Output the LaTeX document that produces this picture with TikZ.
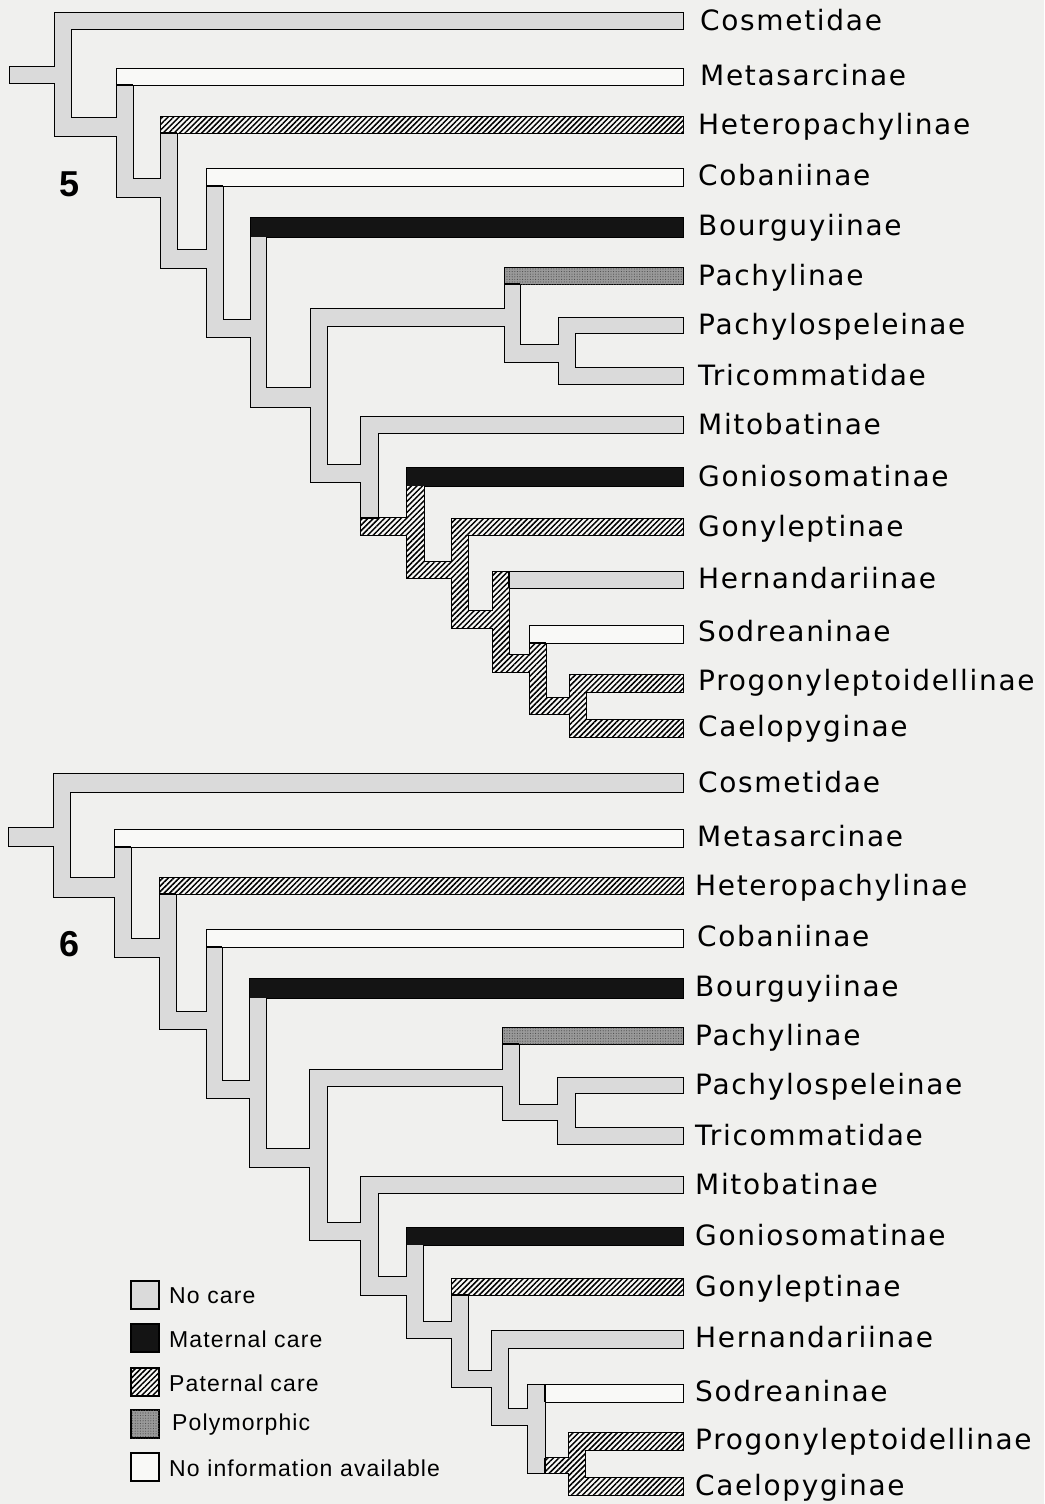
\documentclass[tikz,border=0pt]{standalone}
\usepackage{fontspec}
\setmainfont{DejaVu Sans}
\newfontfamily\labfont[LetterSpace=6]{DejaVu Sans}
\newfontfamily\legfont[LetterSpace=5]{Liberation Sans}
\newfontfamily\numfont{Liberation Sans}
\usetikzlibrary{patterns.meta}
\definecolor{bg}{HTML}{F0F0EE}
\definecolor{nocare}{HTML}{DADADA}
\definecolor{noinfo}{HTML}{F9F9F7}
\definecolor{polyc}{HTML}{999999}
\tikzset{
  gr/.style={fill=nocare},
  wh/.style={fill=noinfo},
  bl/.style={fill=black!92},
  po/.style={fill=polyc, postaction={pattern={Dots[distance=2.6pt,radius=0.55pt]}, pattern color=black!70}},
  ha/.style={fill=noinfo, postaction={pattern={Lines[angle=45,distance=3.9pt,line width=1.5pt]}, pattern color=black}},
  lab/.style={anchor=base west, inner sep=0pt, font=\labfont\fontsize{28}{30}\selectfont},
  leg/.style={anchor=west, inner sep=0pt, font=\legfont\fontsize{23}{26}\selectfont},
  legbox/.style={line width=1.3pt},
  bnd/.style={line width=1.3pt},
  num/.style={inner sep=0pt, font=\numfont\bfseries\fontsize{36}{38}\selectfont}
}
\newcommand\rectpass{}
\newcommand\Rb[5]{\rectpass{#1}{#2}{#3}{#4}{#5}}
\newcommand\outlinepass[5]{\draw[line width=2.8pt] (#1,#2) rectangle (#3,#4);}
\newcommand\fillpass[5]{\fill[#5] (#1,#2) rectangle (#3,#4);}
\newcommand\treeFive{%
  \Rb{10}{67}{55}{83}{gr}
  \Rb{55}{13}{71}{136}{gr}
  \Rb{55}{13}{683}{29}{gr}
  \Rb{55}{118}{133}{136}{gr}
  \Rb{117}{85}{133}{197}{gr}
  \Rb{117}{69}{683}{85}{wh}
  \Rb{117}{179}{177}{197}{gr}
  \Rb{161}{133}{177}{268}{gr}
  \Rb{161}{117}{683}{133}{ha}
  \Rb{161}{250}{223}{268}{gr}
  \Rb{207}{186}{223}{337}{gr}
  \Rb{207}{169}{683}{186}{wh}
  \Rb{207}{320}{266}{337}{gr}
  \Rb{251}{237}{266}{407}{gr}
  \Rb{251}{218}{683}{237}{bl}
  \Rb{251}{388}{327}{407}{gr}
  \Rb{311}{309}{327}{482}{gr}
  \Rb{311}{309}{520}{326}{gr}
  \Rb{505}{284}{520}{362}{gr}
  \Rb{505}{268}{683}{284}{po}
  \Rb{505}{345}{575}{362}{gr}
  \Rb{559}{318}{575}{384}{gr}
  \Rb{559}{318}{683}{333}{gr}
  \Rb{559}{368}{683}{384}{gr}
  \Rb{311}{465}{378}{482}{gr}
  \Rb{361}{417}{378}{518}{gr}
  \Rb{361}{417}{683}{433}{gr}
  \Rb{361}{518}{424}{535}{ha}
  \Rb{407}{486}{424}{578}{ha}
  \Rb{407}{468}{683}{486}{bl}
  \Rb{407}{562}{468}{578}{ha}
  \Rb{452}{519}{468}{628}{ha}
  \Rb{452}{519}{683}{535}{ha}
  \Rb{452}{611}{509}{628}{ha}
  \Rb{493}{572}{509}{672}{ha}
  \Rb{509}{572}{683}{588}{gr}
  \Rb{493}{655}{546}{672}{ha}
  \Rb{530}{643}{546}{714}{ha}
  \Rb{530}{626}{683}{643}{wh}
  \Rb{530}{698}{586}{714}{ha}
  \Rb{570}{675}{586}{737}{ha}
  \Rb{570}{675}{683}{692}{ha}
  \Rb{570}{720}{683}{737}{ha}
}
\newcommand\treeSix{%
  \Rb{9}{828}{54}{846}{gr}
  \Rb{54}{774}{70}{897}{gr}
  \Rb{54}{774}{683}{792}{gr}
  \Rb{54}{878}{131}{897}{gr}
  \Rb{115}{847}{131}{957}{gr}
  \Rb{115}{830}{683}{847}{wh}
  \Rb{115}{939}{176}{957}{gr}
  \Rb{160}{894}{176}{1029}{gr}
  \Rb{160}{878}{683}{894}{ha}
  \Rb{160}{1012}{222}{1029}{gr}
  \Rb{207}{947}{222}{1098}{gr}
  \Rb{207}{930}{683}{947}{wh}
  \Rb{207}{1081}{266}{1098}{gr}
  \Rb{250}{998}{266}{1167}{gr}
  \Rb{250}{979}{683}{998}{bl}
  \Rb{250}{1149}{327}{1167}{gr}
  \Rb{310}{1070}{327}{1240}{gr}
  \Rb{310}{1070}{519}{1086}{gr}
  \Rb{503}{1044}{519}{1120}{gr}
  \Rb{503}{1028}{683}{1044}{po}
  \Rb{503}{1105}{575}{1120}{gr}
  \Rb{558}{1078}{575}{1144}{gr}
  \Rb{558}{1078}{683}{1093}{gr}
  \Rb{558}{1128}{683}{1144}{gr}
  \Rb{310}{1223}{378}{1240}{gr}
  \Rb{361}{1177}{378}{1295}{gr}
  \Rb{361}{1177}{683}{1193}{gr}
  \Rb{361}{1277}{423}{1295}{gr}
  \Rb{407}{1245}{423}{1338}{gr}
  \Rb{407}{1228}{683}{1245}{bl}
  \Rb{407}{1322}{468}{1338}{gr}
  \Rb{452}{1295}{468}{1387}{gr}
  \Rb{452}{1279}{683}{1295}{ha}
  \Rb{452}{1371}{508}{1387}{gr}
  \Rb{492}{1331}{508}{1425}{gr}
  \Rb{492}{1331}{683}{1348}{gr}
  \Rb{492}{1409}{545}{1425}{gr}
  \Rb{528}{1385}{545}{1473}{gr}
  \Rb{545}{1385}{683}{1402}{wh}
  \Rb{545}{1458}{585}{1473}{ha}
  \Rb{569}{1433}{585}{1495}{ha}
  \Rb{569}{1433}{683}{1450}{ha}
  \Rb{569}{1478}{683}{1495}{ha}
}
\begin{document}
\begin{tikzpicture}[x=1pt,y=-1pt]
\useasboundingbox (0,0) rectangle (1044,1504);
\fill[bg] (0,0) rectangle (1044,1504);
% outline pass
\let\rectpass\outlinepass
\treeFive
\treeSix
% fill pass
\let\rectpass\fillpass
\treeFive
\treeSix
% colour boundaries, tree 5
\draw[bnd] (117,85) -- (133,85);
\draw[bnd] (161,133) -- (177,133);
\draw[bnd] (207,186) -- (223,186);
\draw[bnd] (505,284) -- (520,284);
\draw[bnd] (361,518) -- (378,518);
\draw[bnd] (509,572) -- (509,588);
\draw[bnd] (530,643) -- (546,643);
% colour boundaries, tree 6
\draw[bnd] (115,847) -- (131,847);
\draw[bnd] (160,894) -- (176,894);
\draw[bnd] (207,947) -- (222,947);
\draw[bnd] (503,1044) -- (519,1044);
\draw[bnd] (452,1295) -- (468,1295);
\draw[bnd] (545,1385) -- (545,1402);
\draw[bnd] (545,1458) -- (545,1473);
% figure numbers
\node[num] (n5) at (70,184) {5};
\node[num] (n6) at (70,944) {6};
% labels tree 5
\node[lab] (a1) at (700,31) {Cosmetidae};
\node[lab] (a2) at (700,85) {Metasarcinae};
\node[lab] (a3) at (698,134) {Heteropachylinae};
\node[lab] (a4) at (698,185) {Cobaniinae};
\node[lab] (a5) at (698,235) {Bourguyiinae};
\node[lab] (a6) at (698,285) {Pachylinae};
\node[lab] (a7) at (698,334) {Pachylospeleinae};
\node[lab] (a8) at (698,385) {Tricommatidae};
\node[lab] (a9) at (698,434) {Mitobatinae};
\node[lab] (a10) at (698,486) {Goniosomatinae};
\node[lab] (a11) at (698,536) {Gonyleptinae};
\node[lab] (a12) at (698,588) {Hernandariinae};
\node[lab] (a13) at (698,641) {Sodreaninae};
\node[lab] (a14) at (698,690) {Progonyleptoidellinae};
\node[lab] (a15) at (698,736) {Caelopyginae};
% labels tree 6
\node[lab] (b1) at (698,792) {Cosmetidae};
\node[lab] (b2) at (697,846) {Metasarcinae};
\node[lab] (b3) at (695,895) {Heteropachylinae};
\node[lab] (b4) at (697,946) {Cobaniinae};
\node[lab] (b5) at (695,996) {Bourguyiinae};
\node[lab] (b6) at (695,1045) {Pachylinae};
\node[lab] (b7) at (695,1094) {Pachylospeleinae};
\node[lab] (b8) at (695,1145) {Tricommatidae};
\node[lab] (b9) at (695,1194) {Mitobatinae};
\node[lab] (b10) at (695,1245) {Goniosomatinae};
\node[lab] (b11) at (695,1296) {Gonyleptinae};
\node[lab] (b12) at (695,1347) {Hernandariinae};
\node[lab] (b13) at (695,1401) {Sodreaninae};
\node[lab] (b14) at (695,1449) {Progonyleptoidellinae};
\node[lab] (b15) at (695,1495) {Caelopyginae};
% legend
\draw[legbox, gr] (131,1281) rectangle (159,1309);
\draw[legbox, bl] (131,1324) rectangle (159,1352);
\draw[legbox, ha] (131,1368) rectangle (159,1396);
\draw[legbox, po] (131,1410) rectangle (159,1438);
\draw[legbox, wh] (131,1453) rectangle (159,1481);
\node[leg] (l1) at (169,1296) {No care};
\node[leg] (l2) at (169,1339) {Maternal care};
\node[leg] (l3) at (169,1383) {Paternal care};
\node[leg] (l4) at (172,1425) {Polymorphic};
\node[leg] (l5) at (169,1468) {No information available};
\end{tikzpicture}
\end{document}
